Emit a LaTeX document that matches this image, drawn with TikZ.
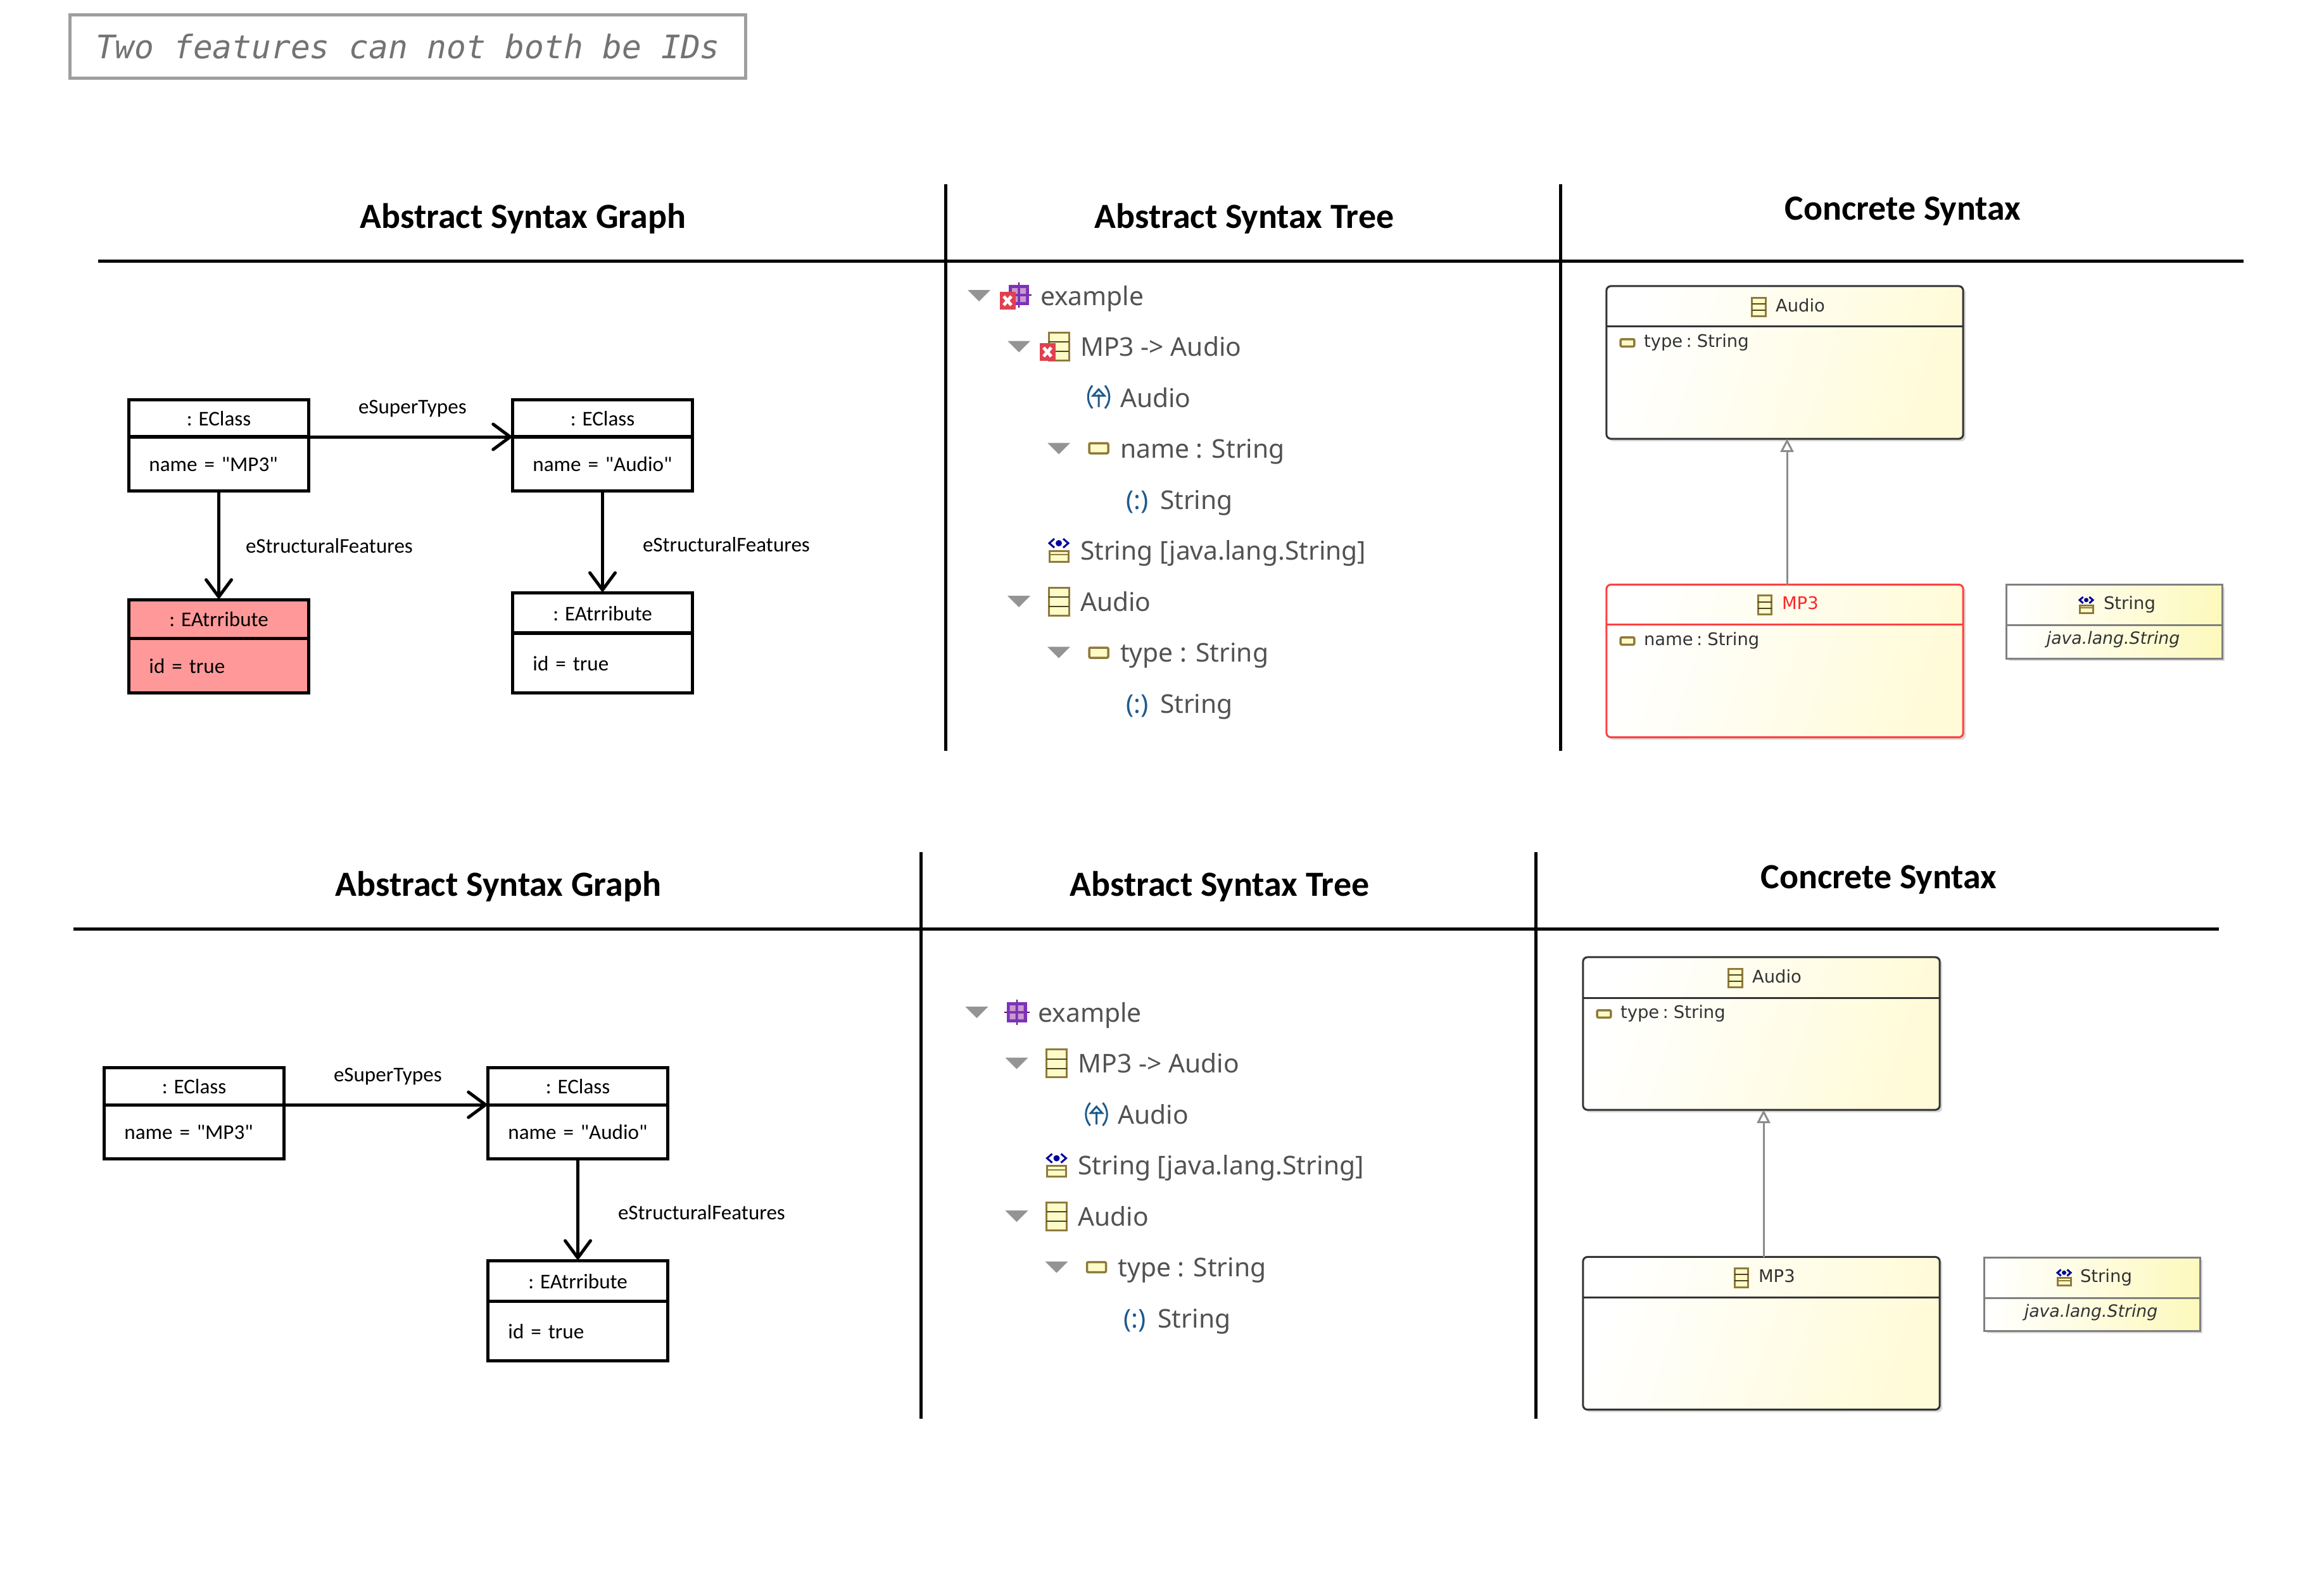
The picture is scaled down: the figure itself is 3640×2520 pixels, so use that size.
\documentclass[tikz,border=0pt]{standalone}
\usepackage{fontspec}
\setmainfont{Carlito}[Ligatures=TeXOff]
\setmonofont{DejaVu Sans Mono}
\newfontfamily\treefont{Noto Sans}
\newfontfamily\umlfont[WordSpace=.6]{DejaVu Sans}
\usetikzlibrary{arrows.meta,shadows}
\definecolor{iconbrown}{HTML}{8F7A3C}
\definecolor{iconyellow}{HTML}{FDFBC8}
\definecolor{iconblue}{HTML}{1F5A8C}
\definecolor{errorred}{HTML}{E0404F}
\definecolor{umlyellow}{HTML}{FFFBD8}
\definecolor{typeyellow}{HTML}{FDF9BE}
\tikzset{
    every node/.style={inner sep=0pt, outer sep=0pt},
    title text/.style={font=\fontsize{15.9}{18}\selectfont\bfseries, anchor=base},
    rule line/.style={black, line width=.05cm},
    obj box/.style={draw=black, line width=.05cm, minimum width=2.83cm, text depth=0pt, text height=.24cm, font=\fontsize{9.4}{11}\selectfont},
    obj body/.style={obj box, text width=2.2cm, align=left},
    ref label/.style={anchor=base west, font=\fontsize{9.4}{11}\selectfont},
    ref arrow/.style={line width=.05cm, -{Straight Barb[length=.27cm, width=.4cm, line cap=round]}},
    tree text/.style={anchor=base west, text=black!68, font=\treefont\fontsize{11.6}{14}\selectfont},
    uml text/.style={anchor=base west, text=black!80, font=\umlfont\fontsize{7.8}{10}\selectfont},
    uml shape/.style={top color=white, bottom color=umlyellow, shading angle=72, rounded corners=.07cm,
        drop shadow={shadow xshift=.04cm, shadow yshift=-.04cm, fill=black!30}, line width=.03cm},
    uml class/.style={uml shape, draw=black!80, minimum width=5.63cm, minimum height=2.41cm},
    uml type/.style={uml shape, sharp corners, bottom color=typeyellow, shading angle=86, draw=black!50, minimum width=3.4cm, minimum height=1.16cm},
    inherit arrow/.style={black!45, line width=.03cm, -{Triangle[open, fill=white, length=.21cm, width=.21cm]}},
    pics/fold/.style={code={
        \fill[black!42] (-18,-9) -- (18,-9) -- (0,9) -- cycle;
    }},
    pics/classicon/.style={code={
        \draw[iconbrown, fill=iconyellow, line width=.03cm] (-16,-22) rectangle (16,22);
        \draw[black!45!iconbrown, line width=.02cm] (-16,-7) -- (16,-7) (-16,8) -- (16,8);
    }},
    pics/attricon/.style={code={
        \draw[iconbrown, fill=iconyellow, line width=.035cm, rounded corners=.02cm] (-15,-8) rectangle (15,8);
    }},
    pics/dataicon/.style={code={
        \draw[iconbrown, fill=iconyellow, line width=.03cm] (-15,1) rectangle (15,18);
        \draw[iconbrown, line width=.02cm] (-15,7) -- (15,7);
        \draw[blue!60!black, line width=.03cm] (-7,-18) -- (-15,-11) -- (-7,-4) (7,-18) -- (15,-11) -- (7,-4);
        \fill[blue!60!black] (0,-11) circle (5);
    }},
    pics/pkgicon/.style={code={
        \draw[violet!80!black, line width=.02cm] (0,-20) -- (0,20) (-20,0) -- (20,0);
        \fill[violet!70!blue!80] (-16,-16) rectangle (16,16);
        \fill[violet!40] (-11,-11) rectangle (-2,-2) (2,-11) rectangle (11,-2) (-11,2) rectangle (-2,11) (2,2) rectangle (11,11);
    }},
    pics/erroricon/.style={code={
        \fill[errorred] (-12.5,-14) rectangle (12.5,14);
        \draw[white, line width=.05cm] (-6,-7) -- (6,7) (-6,7) -- (6,-7);
    }},
    pics/supericon/.style={code={
        \draw[iconblue, line width=.03cm] (-10,-18) to[bend right=40] (-10,18) (10,-18) to[bend left=40] (10,18);
        \draw[iconblue, line width=.03cm] (0,-4) -- (0,16) (-9,-2) -- (0,-12) -- (9,-2) -- cycle;
    }},
}
\begin{document}
\begin{tikzpicture}[x=.01cm, y=-.01cm]
    \useasboundingbox (0,0) rectangle (3640,2520);

    %%%%%%%%%%%%%%%%%%%%%%%%%%%%%%%%%%%%%%%%%%%%
    % Constraint name
    %%%%%%%%%%%%%%%%%%%%%%%%%%%%%%%%%%%%%%%%%%%%
    \node [draw=black!38, line width=.05cm, minimum width=10.66cm, minimum height=1cm,
        font=\ttfamily\itshape\fontsize{14.55}{18}\selectfont, text=black!55] (constraint) at (644,73.5)
        {Two features can not both be IDs};

    %%%%%%%%%%%%%%%%%%%%%%%%%%%%%%%%%%%%%%%%%%%%
    % Headings and rules of both tables
    %%%%%%%%%%%%%%%%%%%%%%%%%%%%%%%%%%%%%%%%%%%%
    \foreach \t/\dx/\dy/\cdx/\cdy in {top/0/0/0/0,bottom/-39/1055/-38/1056} {
        \begin{scope}[shift={(\dx,\dy)}]
            \coordinate (\t-a) at (155,412);
            \coordinate (\t-b) at (3543,412);
            \coordinate (\t-c) at (1493,291);
            \coordinate (\t-d) at (1493,1186);
            \coordinate (\t-e) at (2464,291);
            \coordinate (\t-f) at (2464,1186);
            \draw [rule line] (\t-a) -- (\t-b);
            \draw [rule line] (\t-c) -- (\t-d);
            \draw [rule line] (\t-e) -- (\t-f);
            \node [title text] (\t-graph) at (826,360) {Abstract Syntax Graph};
            \node [title text] (\t-tree) at (1965,360) {Abstract Syntax Tree};
        \end{scope}
        \node [title text] (\t-syntax) at (3005+\cdx,347.5+\cdy) {Concrete Syntax};
    }

    %%%%%%%%%%%%%%%%%%%%%%%%%%%%%%%%%%%%%%%%%%%%
    % Top table: graph
    %%%%%%%%%%%%%%%%%%%%%%%%%%%%%%%%%%%%%%%%%%%%
    \node [obj box, minimum height=.585cm] (mp3-head) at (345.5,660.75) {: EClass};
    \node [obj body, minimum height=.855cm] (mp3-body) at (345.5,732.75) {name = "MP3"};
    \node [obj box, minimum height=.585cm] (audio-head) at (951.5,660.75) {: EClass};
    \node [obj body, minimum height=.855cm] (audio-body) at (951.5,732.75) {name = "Audio"};
    \node [obj box, minimum height=.61cm, fill=red!40] (id1-head) at (345.5,977.5) {: EAtrribute};
    \node [obj body, minimum height=.86cm, fill=red!40] (id1-body) at (345.5,1051) {id = true};
    \node [obj box, minimum height=.64cm] (id2-head) at (951.5,968) {: EAtrribute};
    \node [obj body, minimum height=.94cm] (id2-body) at (951.5,1047) {id = true};

    \draw [ref arrow] (mp3-head.south east) -- (audio-head.south west);
    \draw [ref arrow] (mp3-body) -- (id1-head);
    \draw [ref arrow] (audio-body) -- (id2-head);

    \node [ref label] (super-label) at (566,653) {eSuperTypes};
    \node [ref label] (feat1-label) at (388,873) {eStructuralFeatures};
    \node [ref label] (feat2-label) at (1015,871) {eStructuralFeatures};

    %%%%%%%%%%%%%%%%%%%%%%%%%%%%%%%%%%%%%%%%%%%%
    % Bottom table: graph
    %%%%%%%%%%%%%%%%%%%%%%%%%%%%%%%%%%%%%%%%%%%%
    \begin{scope}[shift={(-39,1055)}]
        \node [obj box, minimum height=.585cm] (mp3b-head) at (345.5,660.75) {: EClass};
        \node [obj body, minimum height=.855cm] (mp3b-body) at (345.5,732.75) {name = "MP3"};
        \node [obj box, minimum height=.585cm] (audiob-head) at (951.5,660.75) {: EClass};
        \node [obj body, minimum height=.855cm] (audiob-body) at (951.5,732.75) {name = "Audio"};
        \node [obj box, minimum height=.64cm] (idb-head) at (951.5,968) {: EAtrribute};
        \node [obj body, minimum height=.94cm] (idb-body) at (951.5,1047) {id = true};

        \draw [ref arrow] (mp3b-head.south east) -- (audiob-head.south west);
        \draw [ref arrow] (audiob-body) -- (idb-head);

        \node [ref label] (superb-label) at (566,653) {eSuperTypes};
        \node [ref label] (featb-label) at (1015,871) {eStructuralFeatures};
    \end{scope}

    %%%%%%%%%%%%%%%%%%%%%%%%%%%%%%%%%%%%%%%%%%%%
    % Top table: tree
    %%%%%%%%%%%%%%%%%%%%%%%%%%%%%%%%%%%%%%%%%%%%

    % Labeling
    \foreach \l/\s [count=\r from 0] in {0/example,1/MP3 -> Audio,2/Audio,2/name : String,3/String,1/String [java.lang.String],1/Audio,2/type : String,3/String}
        \node [tree text] (tree-\r) at (1643+63*\l,482+80.5*\r) {\s};
    \foreach \r in {4,8}
        \node [tree text, text=iconblue] (mark-\r) at (1778,482+80.5*\r) {(:)};

    % Drawing
    \foreach \l/\r in {0/0,1/1,2/3,1/6,2/7}
        \pic at (1546+63*\l,467+80.5*\r) {fold};
    \pic at (1609,466) {pkgicon};
    \pic at (1591,475) {erroricon};
    \pic at (1672,547) {classicon};
    \pic at (1654,556) {erroricon};
    \pic at (1735,627) {supericon};
    \pic at (1735,708) {attricon};
    \pic at (1672,869) {dataicon};
    \pic at (1672,950) {classicon};
    \pic at (1735,1031) {attricon};

    %%%%%%%%%%%%%%%%%%%%%%%%%%%%%%%%%%%%%%%%%%%%
    % Bottom table: tree
    %%%%%%%%%%%%%%%%%%%%%%%%%%%%%%%%%%%%%%%%%%%%
    \begin{scope}[shift={(-3.5,1132)}]
        \foreach \l/\s [count=\r from 0] in {0/example,1/MP3 -> Audio,2/Audio,1/String [java.lang.String],1/Audio,2/type : String,3/String}
            \node [tree text] (treeb-\r) at (1643+63*\l,482+80.5*\r) {\s};
        \node [tree text, text=iconblue] (markb-6) at (1778,482+80.5*6) {(:)};

        \foreach \l/\r in {0/0,1/1,1/4,2/5}
            \pic at (1546+63*\l,467+80.5*\r) {fold};
        \pic at (1609,467) {pkgicon};
        \pic at (1672,547.5) {classicon};
        \pic at (1735,628) {supericon};
        \pic at (1672,708.5) {dataicon};
        \pic at (1672,789) {classicon};
        \pic at (1735,869.5) {attricon};
    \end{scope}

    %%%%%%%%%%%%%%%%%%%%%%%%%%%%%%%%%%%%%%%%%%%%
    % Top table: concrete syntax
    %%%%%%%%%%%%%%%%%%%%%%%%%%%%%%%%%%%%%%%%%%%%
    \node [uml class] (audio-box) at (2818.5,572.5) {};
    \node [uml class, draw=red!75] (mp3-box) at (2818.5,1044) {};
    \node [uml type] (string-box) at (3339,982) {};

    \draw [black!80, line width=.03cm] ([yshift=-.64cm]audio-box.north west) -- ([yshift=-.64cm]audio-box.north east);
    \draw [red!75, line width=.03cm] ([yshift=-.63cm]mp3-box.north west) -- ([yshift=-.63cm]mp3-box.north east);
    \draw [black!50, line width=.03cm] ([yshift=-.63cm]string-box.north west) -- ([yshift=-.63cm]string-box.north east);

    \coordinate (mp3-top) at (2822,924);
    \coordinate (audio-bottom) at (2822,693);
    \draw [inherit arrow] (mp3-top) -- (audio-bottom);

    \node [uml text] (audio-name) at (2804,492) {Audio};
    \node [uml text] (type-attr) at (2596,548) {type : String};
    \node [uml text, text=red!85] (mp3-name) at (2814,962) {MP3};
    \node [uml text] (name-attr) at (2596,1019) {name : String};
    \node [uml text] (string-name) at (3322,962) {String};
    \node [uml text, anchor=base, font=\umlfont\itshape\fontsize{7.6}{10}\selectfont] (string-inst) at (3337,1017) {java.lang.String};

    \pic [scale=.68] at (2777.5,485) {classicon};
    \pic [scale=.68] at (2787,955.5) {classicon};
    \pic [scale=.72] at (2570,541.5) {attricon};
    \pic [scale=.72] at (2570,1012.5) {attricon};
    \pic [scale=.7] at (3294.5,955.5) {dataicon};

    %%%%%%%%%%%%%%%%%%%%%%%%%%%%%%%%%%%%%%%%%%%%
    % Bottom table: concrete syntax
    %%%%%%%%%%%%%%%%%%%%%%%%%%%%%%%%%%%%%%%%%%%%
    \begin{scope}[shift={(-37,1060)}]
        \node [uml class] (audiob-box) at (2818.5,572.5) {};
        \node [uml class] (mp3b-box) at (2818.5,1046) {};
        \node [uml type] (stringb-box) at (3341,984) {};

        \draw [black!80, line width=.03cm] ([yshift=-.64cm]audiob-box.north west) -- ([yshift=-.64cm]audiob-box.north east);
        \draw [black!80, line width=.03cm] ([yshift=-.64cm]mp3b-box.north west) -- ([yshift=-.64cm]mp3b-box.north east);
        \draw [black!50, line width=.03cm] ([yshift=-.64cm]stringb-box.north west) -- ([yshift=-.64cm]stringb-box.north east);

        \coordinate (mp3b-top) at (2822,926);
        \coordinate (audiob-bottom) at (2822,693);
        \draw [inherit arrow] (mp3b-top) -- (audiob-bottom);

        \node [uml text] (audiob-name) at (2804,492) {Audio};
        \node [uml text] (typeb-attr) at (2596,548) {type : String};
        \node [uml text] (mp3b-name) at (2814,965) {MP3};
        \node [uml text] (stringb-name) at (3322,965) {String};
        \node [uml text, anchor=base, font=\umlfont\itshape\fontsize{7.6}{10}\selectfont] (stringb-inst) at (3339,1020) {java.lang.String};

        \pic [scale=.68] at (2777.5,485) {classicon};
        \pic [scale=.68] at (2787,958) {classicon};
        \pic [scale=.72] at (2570,541.5) {attricon};
        \pic [scale=.7] at (3296.5,958) {dataicon};
    \end{scope}
\end{tikzpicture}
\end{document}
